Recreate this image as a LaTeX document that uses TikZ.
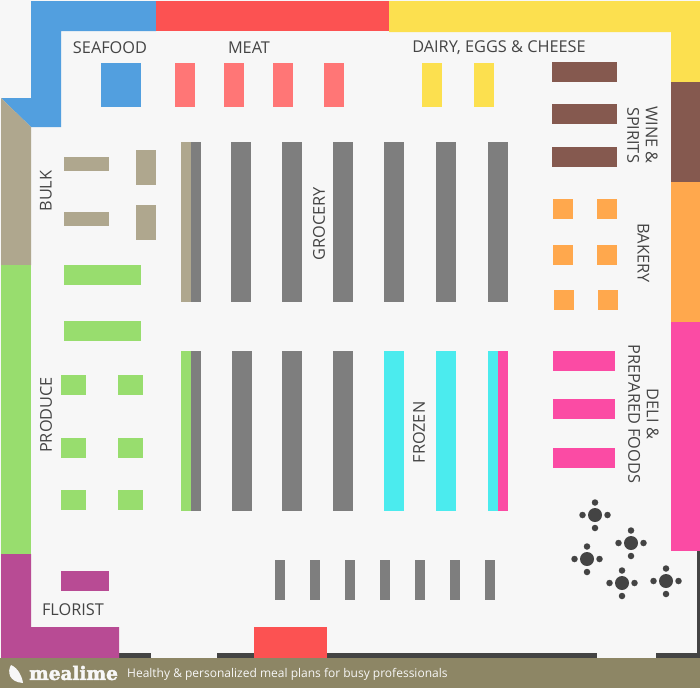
\documentclass[tikz,border=0pt]{standalone}
\usepackage{fontspec}
\setmainfont{Open Sans}
\newfontfamily\logofont[BoldFeatures={FakeBold=2.5}]{DejaVu Serif}
\definecolor{floor}{HTML}{F7F7F7}
\definecolor{seafood}{HTML}{529FDF}
\definecolor{meat}{HTML}{FC5252}
\definecolor{meatshelf}{HTML}{FF7676}
\definecolor{dairy}{HTML}{FCE04F}
\definecolor{wine}{HTML}{85594F}
\definecolor{bakery}{HTML}{FFA84D}
\definecolor{deli}{HTML}{FB4BA4}
\definecolor{bulk}{HTML}{AFA78E}
\definecolor{produce}{HTML}{98DD6E}
\definecolor{florist}{HTML}{B84B94}
\definecolor{aisle}{HTML}{7E7E7E}
\definecolor{frozen}{HTML}{4BEBEE}
\definecolor{wall}{HTML}{444444}
\definecolor{footer}{HTML}{8D8665}
\tikzset{
        label text/.style={text=wall, font=\fontsize{16.3}{18.5}\selectfont, align=center, inner sep=0pt},
        register/.style={circle, fill=wall, draw=none, minimum size=14pt, inner sep=0pt},
        stool/.style={circle, fill=wall, draw=none, minimum size=6.5pt, inner sep=0pt},
}
\begin{document}
\begin{tikzpicture}[x=1pt, y=-1pt]
    \useasboundingbox (0,0) rectangle (700,688);
    \fill[floor] (0,0) rectangle (700,688);

    % walls
    \fill[wall] (119,653) rectangle (151,658);
    \fill[wall] (217,653) rectangle (254,658);
    \fill[wall] (327,653) rectangle (597,658);
    \fill[wall] (656,653) rectangle (700,658);
    \fill[wall] (697,551) rectangle (700,658);

    % departments along the walls
    \fill[seafood] (31,1) -- (156,1) -- (156,31) -- (61,31) -- (61,127) -- (31,127) -- (1,98) -- (31,98) -- cycle;
    \fill[meat] (156,1) rectangle (389,31);
    \fill[dairy] (389,1) -- (700,1) -- (700,82) -- (671,82) -- (671,32) -- (389,32) -- cycle;
    \fill[wine] (671,82) rectangle (700,182);
    \fill[bakery] (671,182) rectangle (700,322);
    \fill[deli] (671,322) rectangle (700,551);
    \fill[bulk] (1,98) -- (31,127) -- (31,265) -- (1,265) -- cycle;
    \fill[produce] (1,265) rectangle (31,554);
    \fill[florist] (1,554) -- (31,554) -- (31,627) -- (119,627) -- (119,658) -- (1,658) -- cycle;
    \fill[meat] (254,627) rectangle (327,658);

    % shelves
    \fill[seafood] (101,63) rectangle (141,107);
    \foreach \x in {175,224,273,324}
        \fill[meatshelf] (\x,63) rectangle +(20,44);
    \foreach \x in {422,474}
        \fill[dairy] (\x,63) rectangle +(20,44);
    \foreach \y in {62,104,147}
        \fill[wine] (552,\y) rectangle +(65,20);
    \foreach \x/\y in {553/199,597/199,553/245,597/245,554/290,598/290}
        \fill[bakery] (\x,\y) rectangle +(20,20);
    \foreach \y in {351,399,448}
        \fill[deli] (553,\y) rectangle +(62,20);
    \foreach \y in {157,212}
        \fill[bulk] (64,\y) rectangle +(45,14);
    \foreach \y in {150,205}
        \fill[bulk] (136,\y) rectangle +(20,35);
    \foreach \y in {265,321}
        \fill[produce] (64,\y) rectangle +(77,20);
    \foreach \y in {375,438,490}{
        \fill[produce] (61,\y) rectangle +(25,20);
        \fill[produce] (118,\y) rectangle +(25,20);
    }
    \fill[florist] (61,571) rectangle (109,591);

    % aisles
    \fill[bulk] (181,142) rectangle (191,302);
    \fill[aisle] (191,142) rectangle (201,302);
    \foreach \x in {231,282,333,384,436,488}
        \fill[aisle] (\x,142) rectangle +(20,160);
    \fill[produce] (181,351) rectangle (191,511);
    \fill[aisle] (191,351) rectangle (201,511);
    \foreach \x in {232,282,333}
        \fill[aisle] (\x,351) rectangle +(20,160);
    \foreach \x in {384,436}
        \fill[frozen] (\x,351) rectangle +(20,160);
    \fill[frozen] (488,351) rectangle (498,511);
    \fill[deli] (498,351) rectangle (508,511);
    \foreach \x in {275,310,345,380,415,450,485}
        \fill[aisle] (\x,560) rectangle +(10,40);

    % registers
    \foreach \n/\x/\y in {a/595/515,b/631/543,c/587/559,d/622/583,e/666/581}{
        \node[register] (reg\n) at (\x,\y) {};
        \node[stool] at (\x,\y-12.5) {};
        \node[stool] at (\x,\y+13) {};
        \node[stool] at (\x-12.5,\y) {};
        \node[stool] at (\x+12.5,\y) {};
    }

    % labels
    \node[label text] (lseafood) at (110,48) {SEAFOOD};
    \node[label text] (lmeat) at (249,48) {MEAT};
    \node[label text] (ldairy) at (499,48) {DAIRY, EGGS \& CHEESE};
    \node[label text, rotate=-90] (lwine) at (642.5,135) {WINE \&\\SPIRITS};
    \node[label text, rotate=-90] (lbakery) at (643.5,253) {BAKERY};
    \node[label text, rotate=-90] (ldeli) at (643.5,414) {DELI \&\\PREPARED FOODS};
    \node[label text, rotate=90] (lbulk) at (46,191) {BULK};
    \node[label text, rotate=90] (lgrocery) at (319,224) {GROCERY};
    \node[label text, rotate=90] (lproduce) at (46,415) {PRODUCE};
    \node[label text, rotate=90] (lfrozen) at (419,432.5) {FROZEN};
    \node[label text] (lflorist) at (73,610) {FLORIST};

    % footer
    \fill[footer] (0,658) rectangle (700,688);
    \fill[floor] (11,665) .. controls (7,672) and (9,682) .. (23,683) .. controls (22,676) and (18,668) .. cycle;
    \node[text=floor, anchor=west, inner sep=0pt, font=\logofont\bfseries\fontsize{18.5}{20}\selectfont] (logo) at (29,673) {mealime};
    \node[text=floor, anchor=west, inner sep=0pt, font=\fontsize{12}{14}\selectfont] (slogan) at (127,674) {Healthy \& personalized meal plans for busy professionals};
\end{tikzpicture}
\end{document}
